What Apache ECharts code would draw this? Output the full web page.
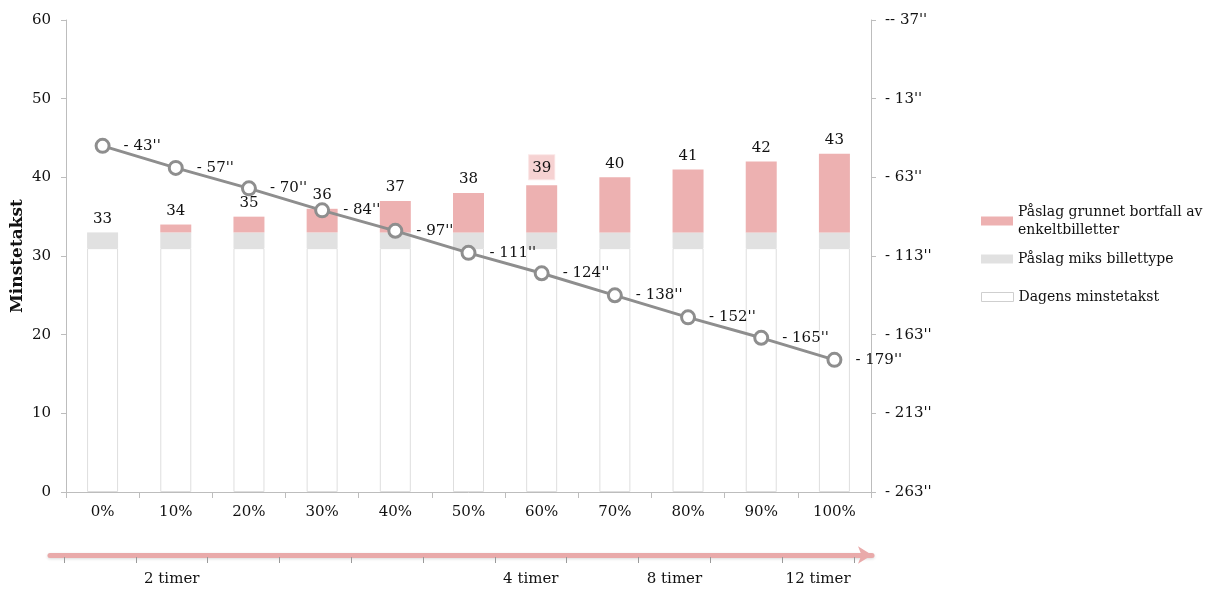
<!DOCTYPE html>
<html>
<head>
<meta charset="utf-8">
<script src="https://cdn.jsdelivr.net/npm/echarts@6/dist/echarts.min.js"></script>
<style>html,body{margin:0;padding:0;background:#fff}#c{width:1209px;height:590px}</style>
</head>
<body>
<div id="c"></div>
<script>
const categories = ['0%', '10%', '20%', '30%', '40%', '50%', '60%', '70%', '80%', '90%', '100%'];
const baseFare = [31, 31, 31, 31, 31, 31, 31, 31, 31, 31, 31];
const mixSurcharge = [2, 2, 2, 2, 2, 2, 2, 2, 2, 2, 2];
const singleSurcharge = [0, 1, 2, 3, 4, 5, 6, 7, 8, 9, 10];
const timeDiff = [43, 57, 70, 84, 97, 111, 124, 138, 152, 165, 179];
const rightTickValues = [-37, 13, 63, 113, 163, 213, 263];
const durationLabels = ['', '2 timer', '', '', '', '', '4 timer', '', '8 timer', '', '12 timer'];
const nameSingle = 'Påslag grunnet bortfall av\nenkeltbilletter';
const nameMix = 'Påslag miks billettype';
const nameBase = 'Dagens minstetakst';

const FONT = 'DejaVu Serif';
const txt = { fontFamily: FONT, fontSize: 15, color: '#111' };
const legTxt = { fontFamily: FONT, fontSize: 14, color: '#111', lineHeight: 18 };
const axisGrey = '#bdbdbd';

const chart = echarts.init(document.getElementById('c'));
chart.setOption({
  animation: false,
  backgroundColor: '#fff',
  textStyle: { fontFamily: FONT },
  grid: [
    { left: 66, right: 338, top: 20, bottom: 98, outerBoundsMode: 'none', containLabel: false },
    { left: 64, width: 790, top: 556, height: 1, outerBoundsMode: 'none', containLabel: false },
    { left: 50, width: 822, top: 554, height: 1, outerBoundsMode: 'none', containLabel: false }
  ],
  legend: [
    { data: [nameSingle], left: 981, top: 194, orient: 'vertical', padding: 0, itemWidth: 32, itemHeight: 9,
      icon: 'rect', textStyle: Object.assign({}, legTxt, { padding: [18, 0, 0, 0] }) },
    { data: [nameMix], left: 981, top: 250, orient: 'vertical', padding: 0, itemWidth: 32, itemHeight: 9,
      icon: 'rect', textStyle: legTxt },
    { data: [nameBase], left: 981, top: 288, orient: 'vertical', padding: 0, itemWidth: 32, itemHeight: 9,
      icon: 'rect', itemStyle: { borderColor: '#cfcfcf', borderWidth: 1 }, textStyle: legTxt }
  ],
  xAxis: [
    { type: 'category', gridIndex: 0, data: categories,
      axisLine: { lineStyle: { color: axisGrey, width: 1 } },
      axisTick: { show: true, alignWithLabel: false, length: 6, lineStyle: { color: axisGrey } },
      axisLabel: Object.assign({}, txt, { margin: 13 }),
      splitLine: { show: false } },
    { type: 'category', gridIndex: 1, data: durationLabels, position: 'bottom',
      axisLine: { lineStyle: { color: '#9a9a9a', width: 1 } },
      axisTick: { show: true, alignWithLabel: false, length: 6, interval: 0, lineStyle: { color: '#9a9a9a' } },
      axisLabel: Object.assign({}, txt, { margin: 15, interval: 0 }),
      splitLine: { show: false } },
    { type: 'category', gridIndex: 2, data: categories, position: 'bottom',
      axisLine: { symbol: ['none', 'arrow'], symbolSize: [13, 14],
        lineStyle: { color: '#e9aaaa', width: 5, shadowColor: 'rgba(0,0,0,0.15)', shadowBlur: 3, shadowOffsetY: 1 } },
      axisTick: { show: false }, axisLabel: { show: false }, splitLine: { show: false } }
  ],
  yAxis: [
    { type: 'value', gridIndex: 0, min: 0, max: 60, interval: 10,
      name: 'Minstetakst', nameLocation: 'middle', nameGap: 40, nameMoveOverlap: false,
      nameTextStyle: { fontFamily: FONT, fontSize: 17, fontWeight: 'bold', color: '#111' },
      axisLine: { show: true, lineStyle: { color: axisGrey } },
      axisTick: { show: true, length: 5, lineStyle: { color: axisGrey } },
      axisLabel: Object.assign({}, txt, { margin: 15 }),
      splitLine: { show: false } },
    { type: 'value', gridIndex: 0, min: -37, max: 263, inverse: true, position: 'right',
      alignTicks: false,
      axisLine: { show: true, lineStyle: { color: axisGrey } },
      axisTick: { show: true, length: 5, customValues: rightTickValues, lineStyle: { color: axisGrey } },
      axisLabel: Object.assign({}, txt, { margin: 14, customValues: rightTickValues,
        formatter: v => (v < 0 ? '-- ' + (-v) : '- ' + v) + "''" }),
      splitLine: { show: false } },
    { type: 'value', gridIndex: 1, show: false, min: 0, max: 1 },
    { type: 'value', gridIndex: 2, show: false, min: 0, max: 1 }
  ],
  series: [
    { name: nameBase, type: 'bar', stack: 'fare', xAxisIndex: 0, yAxisIndex: 0, barWidth: 31,
      data: baseFare, itemStyle: { color: '#ffffff', borderColor: '#dedede', borderWidth: 1 } },
    { name: nameMix, type: 'bar', stack: 'fare', xAxisIndex: 0, yAxisIndex: 0, barWidth: 31,
      data: mixSurcharge, itemStyle: { color: '#e1e1e1' } },
    { name: nameSingle, type: 'bar', stack: 'fare', xAxisIndex: 0, yAxisIndex: 0, barWidth: 31,
      data: singleSurcharge.map((v, i) => i === 6
        ? { value: v, label: { backgroundColor: '#f6d2d2', borderColor: '#fbe6e6', borderWidth: 1, padding: [5, 3, 4, 3] } }
        : v),
      itemStyle: { color: '#edb1b1' },
      label: Object.assign({ show: true, position: 'top', distance: 6 }, txt,
        { formatter: p => String(baseFare[p.dataIndex] + mixSurcharge[p.dataIndex] + singleSurcharge[p.dataIndex]) }) },
    { name: 'Tid', type: 'line', xAxisIndex: 0, yAxisIndex: 1, data: timeDiff, z: 5,
      symbol: 'circle', symbolSize: 13,
      lineStyle: { color: '#8e8e8e', width: 3 },
      itemStyle: { color: '#ffffff', borderColor: '#8e8e8e', borderWidth: 3 },
      label: Object.assign({ show: true, position: 'right', distance: 13 }, txt,
        { formatter: p => '- ' + p.value + "''" }) }
  ]
});
</script>
</body>
</html>
